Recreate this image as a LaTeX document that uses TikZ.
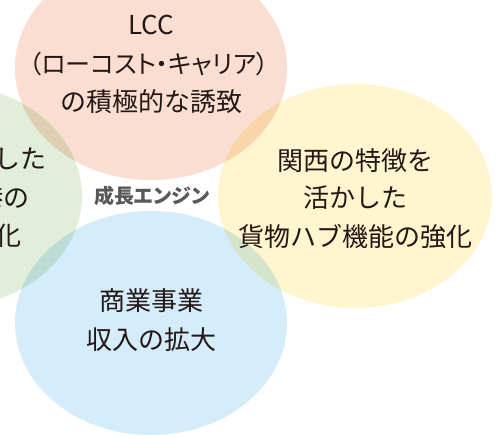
\documentclass[tikz,border=0pt]{standalone}
\usepackage{fontspec}
\setmainfont{Noto Sans CJK JP}
\newfontfamily\jpfont{Noto Sans CJK JP}
\newfontfamily\jppalt[RawFeature=+palt]{Noto Sans CJK JP}
\definecolor{ink}{HTML}{231815}
\definecolor{engine}{HTML}{595757}
\definecolor{cTop}{HTML}{F9DED1}
\definecolor{cRight}{HTML}{FFF6CF}
\definecolor{cLeft}{HTML}{E2EEDA}
\definecolor{cBottom}{HTML}{D5EDFA}
\begin{document}
\begin{tikzpicture}[x=1pt,y=-1pt,
  mainlbl/.style={font=\jpfont\fontsize{26}{26}\selectfont, text=ink, inner sep=0pt, anchor=base},
  paltlbl/.style={font=\jppalt\fontsize{25}{25}\selectfont, text=ink, inner sep=0pt, anchor=base},
  enginelbl/.style={font=\jppalt\bfseries\fontsize{20}{20}\selectfont, text=engine, inner sep=0pt, anchor=base}]
\useasboundingbox (0,0) rectangle (503,437);
\clip (0,0) rectangle (503,437);
\fill[white] (0,0) rectangle (503,437);
\begin{scope}[blend group=multiply]
  \fill[cTop]    (151,68)  ellipse [x radius=136pt, y radius=112pt];
  \fill[cRight]  (355,196) ellipse [x radius=137pt, y radius=112pt];
  \fill[cLeft]   (-55,196) ellipse [x radius=137pt, y radius=112pt];
  \fill[cBottom] (151,323) ellipse [x radius=136pt, y radius=112pt];
\end{scope}
% top
\node[mainlbl] (t1) at (151,34) {LCC};
\node[paltlbl] (t2) at (149,73) {（ローコスト・キャリア）};
\node[mainlbl] (t3) at (151,111) {の積極的な誘致};
% right
\node[mainlbl] (r1) at (355,170) {関西の特徴を};
\node[mainlbl] (r2) at (355,207) {活かした};
\node[mainlbl] (r3) at (355,246) {貨物ハブ機能の強化};
% bottom
\node[mainlbl] (b1) at (151,310) {商業事業};
\node[mainlbl] (b2) at (151,349) {収入の拡大};
% left (cut off by the picture edge, as in the reference)
\node[mainlbl, anchor=base east] (l1) at (47,168) {立地を活かした};
\node[mainlbl, anchor=base east] (l2) at (30,207) {空港の};
\node[mainlbl, anchor=base east] (l3) at (22,245) {機能強化};
% centre
\node[enginelbl] (eng) at (152,203) {成長エンジン};
\end{tikzpicture}
\end{document}
